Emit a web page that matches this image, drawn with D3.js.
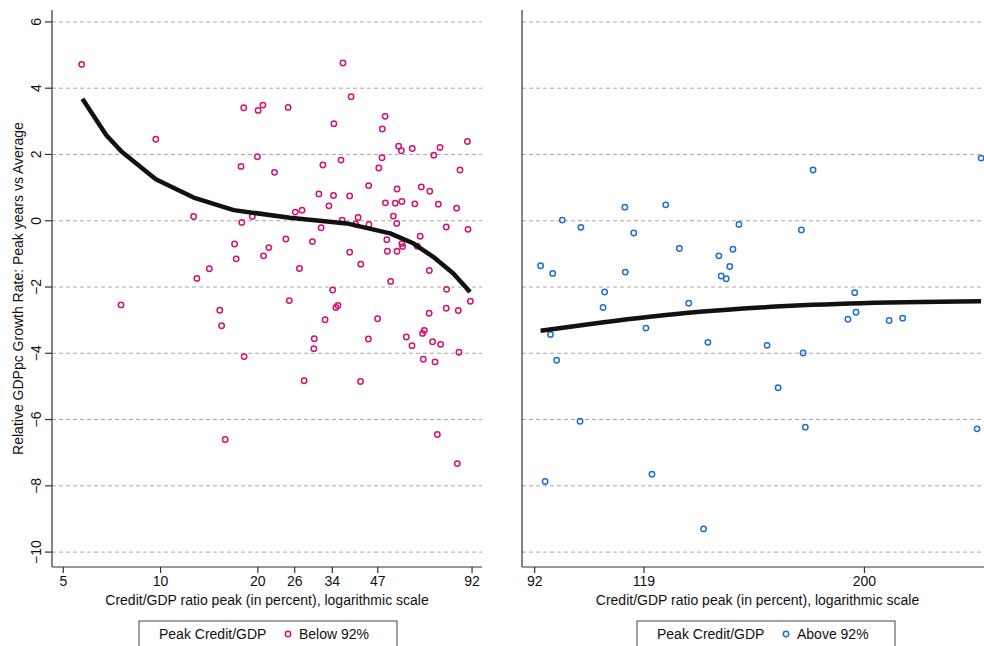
<!DOCTYPE html>
<html>
<head>
<meta charset="utf-8">
<script src="https://cdn.jsdelivr.net/npm/d3@7"></script>
<style>
  body { margin: 0; background: #fff; }
  svg { font-family: "Liberation Sans", Arial, sans-serif; }
</style>
</head>
<body>
<svg id="chart" width="984" height="646"></svg>
<script>
// --- data ---
const belowX = [5.72, 18.15, 20.1, 20.8, 24.9, 9.70, 20.0, 17.8, 22.6, 12.7, 19.3, 17.9, 24.5, 17.0, 21.7, 17.2, 20.9, 14.2, 13.0, 25.1,
  39.0, 36.8, 49.7, 34.5, 48.7, 54.7, 55.8, 60.3, 73.5, 89.3, 70.3, 36.3, 48.6, 31.9, 47.5, 84.7, 44.2, 54.1, 64.3, 68.3,
  31.0, 34.4, 38.6, 33.3, 49.8, 53.4, 56.0, 61.4, 72.6, 82.7, 26.2, 27.5, 52.7, 41.0, 36.6, 31.5, 54.0, 40.3, 44.3, 76.8,
  89.7, 29.6, 50.3, 63.8, 62.5, 56.0, 56.3, 50.5, 54.1, 38.6, 41.8, 27.0, 68.1, 51.7, 34.2, 77.0, 35.5, 35.0, 76.8, 83.7,
  91.2, 7.57, 15.3, 15.5, 18.2, 15.9, 32.4, 47.1, 68.0, 30.0, 29.9, 44.1, 57.8, 60.2, 64.9, 65.7, 69.7, 73.8, 84.1, 65.2,
  70.9, 27.9, 41.7, 72.1, 83.1];
const belowY = [4.72, 3.41, 3.33, 3.49, 3.42, 2.46, 1.93, 1.64, 1.46, 0.13, 0.13, -0.05, -0.55, -0.70, -0.81, -1.15, -1.06, -1.45, -1.74, -2.41,
  3.74, 4.76, 3.15, 2.93, 2.77, 2.25, 2.11, 2.18, 2.21, 2.39, 1.98, 1.83, 1.90, 1.68, 1.59, 1.53, 1.06, 0.96, 1.02, 0.89,
  0.81, 0.76, 0.75, 0.45, 0.54, 0.53, 0.58, 0.51, 0.50, 0.38, 0.26, 0.32, 0.14, 0.10, 0.02, -0.21, -0.08, -0.10, -0.11, -0.19,
  -0.26, -0.63, -0.57, -0.47, -0.77, -0.69, -0.78, -0.92, -0.92, -0.95, -1.31, -1.44, -1.50, -1.83, -2.09, -2.07, -2.56, -2.62, -2.64, -2.71,
  -2.43, -2.54, -2.70, -3.17, -4.10, -6.60, -2.99, -2.96, -2.79, -3.56, -3.86, -3.57, -3.51, -3.77, -3.40, -3.31, -3.65, -3.73, -3.97, -4.18,
  -4.26, -4.83, -4.85, -6.45, -7.33];

const aboveX = [113.9, 125.4, 98.3, 102.7, 116.3, 149.0, 129.5, 146.9, 142.1, 145.8, 142.9, 144.6, 93.4, 96.1, 114.0, 108.6, 108.2, 132.4, 119.7, 138.5,
  95.6, 97.0, 177.4, 263.5, 172.6, 195.7, 196.3, 192.6, 212.2, 219.1, 159.2, 173.3, 163.4, 174.2, 261.0, 102.5, 94.4, 121.4, 137.1];
const aboveY = [0.41, 0.48, 0.02, -0.20, -0.37, -0.11, -0.84, -0.86, -1.06, -1.38, -1.67, -1.75, -1.36, -1.59, -1.55, -2.15, -2.62, -2.49, -3.24, -3.67,
  -3.43, -4.21, 1.53, 1.89, -0.28, -2.17, -2.76, -2.97, -3.01, -2.94, -3.76, -3.99, -5.04, -6.23, -6.28, -6.05, -7.87, -7.65, -9.30];

// fitted curves (traced)
const fitBelowX = [5.75, 6.81, 7.61, 9.70, 12.7, 16.9, 25.2, 37.8, 51.5, 60.7, 70.0, 80.8, 91.0];
const fitBelowY = [3.68, 2.59, 2.08, 1.25, 0.70, 0.32, 0.09, -0.08, -0.38, -0.68, -1.09, -1.59, -2.15];
const fitAboveX = [93.4, 107.4, 120.8, 135.9, 156.6, 193.5, 263.5];
const fitAboveY = [-3.32, -3.08, -2.90, -2.75, -2.62, -2.50, -2.43];

const yTicks = [6, 4, 2, 0, -2, -4, -6, -8, -10];
const belowTicks = [5, 10, 20, 26, 34, 47, 92];
const aboveTicks = [92, 119, 200];

const pink = '#d3136f';
const blue = '#1f6fd2';

const svg = d3.select('#chart');
const yTop = 10, yBottom = 567;

const y = d3.scaleLinear().domain([-10.45, 6.36]).range([yBottom, yTop]);

const fmt = v => v < 0 ? '\u2212' + Math.abs(v) : String(v);

function panel(opts) {
  const x = d3.scaleLog().domain(opts.domain).range([opts.x0, opts.x1]);
  const g = svg.append('g');

  // dashed grid
  g.selectAll('line.grid')
    .data(yTicks)
    .enter().append('line')
    .attr('class', 'grid')
    .attr('x1', opts.x0).attr('x2', opts.x1)
    .attr('y1', d => y(d)).attr('y2', d => y(d))
    .attr('stroke', '#a8a8a8')
    .attr('stroke-width', 1)
    .attr('stroke-dasharray', '4,3');

  // axis lines
  g.append('line').attr('x1', opts.x0).attr('x2', opts.x0).attr('y1', yTop).attr('y2', yBottom)
    .attr('stroke', '#333').attr('stroke-width', 1.2);
  g.append('line').attr('x1', opts.x0).attr('x2', opts.x1).attr('y1', yBottom).attr('y2', yBottom)
    .attr('stroke', '#333').attr('stroke-width', 1.2);

  // x axis ticks
  const xAxis = d3.axisBottom(x).tickValues(opts.ticks).tickFormat(d => d).tickSize(6).tickPadding(3);
  const ax = g.append('g').attr('transform', `translate(0,${yBottom})`).call(xAxis);
  ax.select('.domain').remove();
  ax.selectAll('line').attr('stroke', '#333').attr('stroke-width', 1.2);
  ax.selectAll('text').attr('font-size', 14).attr('fill', '#111').attr('font-family', 'Liberation Sans, Arial, sans-serif');

  g.append('text')
    .attr('x', (opts.x0 + opts.x1) / 2).attr('y', 605)
    .attr('text-anchor', 'middle').attr('font-size', 14).attr('fill', '#111')
    .text('Credit/GDP ratio peak (in percent), logarithmic scale');

  // points
  const pts = opts.xs.map((v, i) => [v, opts.ys[i]]);
  g.selectAll('circle.pt')
    .data(pts)
    .enter().append('circle')
    .attr('class', 'pt')
    .attr('cx', d => x(d[0])).attr('cy', d => y(d[1]))
    .attr('r', 2.7)
    .attr('fill', 'none')
    .attr('stroke', opts.color)
    .attr('stroke-width', 1.5);

  // fitted line
  const fit = opts.fx.map((v, i) => [v, opts.fy[i]]);
  g.append('path')
    .datum(fit)
    .attr('d', d3.line().x(d => x(d[0])).y(d => y(d[1])).curve(opts.curve))
    .attr('fill', 'none')
    .attr('stroke', '#111')
    .attr('stroke-width', 4.5)
    .attr('stroke-linejoin', 'round');

  // legend
  const lg = g.append('g');
  lg.append('rect')
    .attr('x', opts.lx).attr('y', 621).attr('width', 258).attr('height', 40)
    .attr('fill', '#fff').attr('stroke', '#444').attr('stroke-width', 1);
  lg.append('text').attr('x', opts.lx + 20).attr('y', 639).attr('font-size', 14).attr('fill', '#111')
    .text('Peak Credit/GDP');
  lg.append('circle').attr('cx', opts.lx + 149).attr('cy', 634).attr('r', 2.7)
    .attr('fill', 'none').attr('stroke', opts.color).attr('stroke-width', 1.5);
  lg.append('text').attr('x', opts.lx + 160).attr('y', 639).attr('font-size', 14).attr('fill', '#111')
    .text(opts.label);
  return x;
}

panel({ domain: [4.63, 99.1], x0: 52, x1: 482, ticks: belowTicks, xs: belowX, ys: belowY,
  fx: fitBelowX, fy: fitBelowY, color: pink, lx: 139, label: 'Below 92%', curve: d3.curveLinear });
panel({ domain: [89.4, 271], x0: 522, x1: 993, ticks: aboveTicks, xs: aboveX, ys: aboveY,
  fx: fitAboveX, fy: fitAboveY, color: blue, lx: 637, label: 'Above 92%', curve: d3.curveMonotoneX });

// y axis (left panel only)
const yAxis = svg.append('g');
yAxis.selectAll('line.ytick')
  .data(yTicks)
  .enter().append('line')
  .attr('x1', 45).attr('x2', 52)
  .attr('y1', d => y(d)).attr('y2', d => y(d))
  .attr('stroke', '#333').attr('stroke-width', 1.2);
yAxis.selectAll('text.ylab')
  .data(yTicks)
  .enter().append('text')
  .attr('transform', d => `translate(41,${y(d)}) rotate(-90)`)
  .attr('text-anchor', 'middle')
  .attr('font-size', 14).attr('fill', '#111')
  .text(fmt);

svg.append('text')
  .attr('transform', `translate(23,${(yTop + yBottom) / 2}) rotate(-90)`)
  .attr('text-anchor', 'middle')
  .attr('font-size', 14).attr('fill', '#111')
  .text('Relative GDPpc Growth Rate: Peak years vs Average');
</script>
</body>
</html>
